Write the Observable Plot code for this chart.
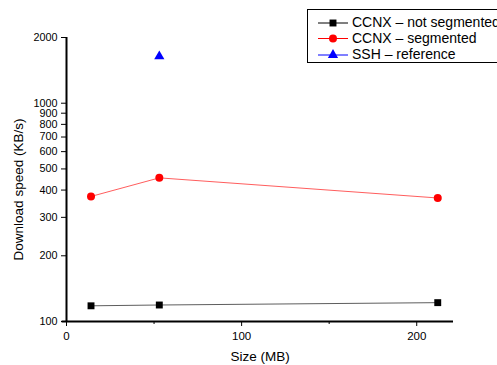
<!DOCTYPE html>
<html>
<head>
<meta charset="utf-8">
<script src="https://cdn.jsdelivr.net/npm/d3@7"></script>
<script src="https://cdn.jsdelivr.net/npm/@observablehq/plot@0.6"></script>
<style>
  html, body { margin: 0; padding: 0; background: #fff; overflow: hidden; }
  #wrap { position: relative; width: 497px; height: 365px; overflow: hidden; font-family: "Liberation Sans", Arial, sans-serif; }
  #legend { position: absolute; left: 307px; top: 9px; width: 210px; height: 54px; border: 1px solid #000; background: #fff; box-sizing: border-box; }
  #legend svg { position: absolute; left: 0; top: 0; }
  .lt { position: absolute; left: 44px; font-size: 14px; white-space: nowrap; color: #000; line-height: 1; }
</style>
</head>
<body>
<div id="wrap"></div>
<script>
// Data
const sizes = [14, 53, 212];                 // MB
const notSegmented = [118, 119, 122];        // KB/s
const segmented = [374, 455, 368];           // KB/s
const sshSizes = [53];
const sshSpeeds = [1640];
const seriesNames = ["CCNX \u2013 not segmented", "CCNX \u2013 segmented", "SSH \u2013 reference"];
const yTicks = [100, 200, 300, 400, 500, 600, 700, 800, 900, 1000, 2000];
const xTicks = [0, 100, 200];
const xMinorTicks = [50, 150];

const black = sizes.map((s, i) => ({x: s, y: notSegmented[i]}));
const red = sizes.map((s, i) => ({x: s, y: segmented[i]}));
const blue = sshSizes.map((s, i) => ({x: s, y: sshSpeeds[i]}));

const chart = Plot.plot({
  width: 497,
  height: 365,
  marginLeft: 66,
  marginRight: 44,
  marginTop: 37,
  marginBottom: 44,
  style: {fontFamily: "'Liberation Sans', Arial, sans-serif", fontSize: "11px", background: "white", color: "black"},
  x: {domain: [0, 221]},
  y: {type: "log", domain: [100, 2000]},
  marks: [
    Plot.axisX({ticks: xTicks, tickSize: 5, tickPadding: 5, tickFormat: d => String(d), label: null, fontSize: 11.5}),
    Plot.axisX({ticks: xMinorTicks, tickSize: 3, tickFormat: null, text: null, label: null}),
    Plot.axisY({ticks: yTicks, tickSize: 5, tickPadding: 4, tickFormat: d => String(d), label: null, fontSize: 10.8}),
    Plot.text(["Size (MB)"], {frameAnchor: "bottom", textAnchor: "middle", dy: 39, fontSize: 13.5}),
    Plot.text(["Download speed (KB/s)"], {frameAnchor: "left", textAnchor: "middle", rotate: -90, dx: -48, dy: 10, fontSize: 13.5}),
    Plot.ruleY([100], {stroke: "black", strokeWidth: 2, x1: -2.5, x2: 221}),
    Plot.ruleX([0], {stroke: "black", strokeWidth: 2}),
    Plot.line(black, {x: "x", y: "y", stroke: "#333", strokeWidth: 0.8}),
    Plot.line(red, {x: "x", y: "y", stroke: "#ff3333", strokeWidth: 0.8}),
    Plot.dot(black, {x: "x", y: "y", symbol: "square", r: 3.9, fill: "black"}),
    Plot.dot(red, {x: "x", y: "y", symbol: "circle", r: 4, fill: "red"}),
    Plot.dot(blue, {x: "x", y: "y", symbol: "triangle", r: 3.8, fill: "blue"})
  ]
});

const wrap = document.getElementById("wrap");
wrap.appendChild(chart);

// Legend
const legend = document.createElement("div");
legend.id = "legend";
const colors = ["black", "red", "blue"];
const symbols = [d3.symbolSquare, d3.symbolCircle, d3.symbolTriangle];
const sizesSym = [48, 50, 45];
const rowsY = [13, 28.5, 45];
const ns = "http://www.w3.org/2000/svg";
const svg = document.createElementNS(ns, "svg");
svg.setAttribute("width", 44);
svg.setAttribute("height", 53);
seriesNames.forEach((name, i) => {
  const ln = document.createElementNS(ns, "line");
  ln.setAttribute("x1", 10); ln.setAttribute("x2", 40);
  ln.setAttribute("y1", rowsY[i]); ln.setAttribute("y2", rowsY[i]);
  ln.setAttribute("stroke", colors[i]); ln.setAttribute("stroke-width", 1);
  svg.appendChild(ln);
  const p = document.createElementNS(ns, "path");
  p.setAttribute("d", d3.symbol(symbols[i], sizesSym[i])());
  p.setAttribute("transform", `translate(25,${rowsY[i]})`);
  p.setAttribute("fill", colors[i]);
  svg.appendChild(p);
  const t = document.createElement("div");
  t.className = "lt";
  t.style.top = (rowsY[i] - 8) + "px";
  t.textContent = name;
  legend.appendChild(t);
});
legend.appendChild(svg);
wrap.appendChild(legend);
</script>
</body>
</html>
